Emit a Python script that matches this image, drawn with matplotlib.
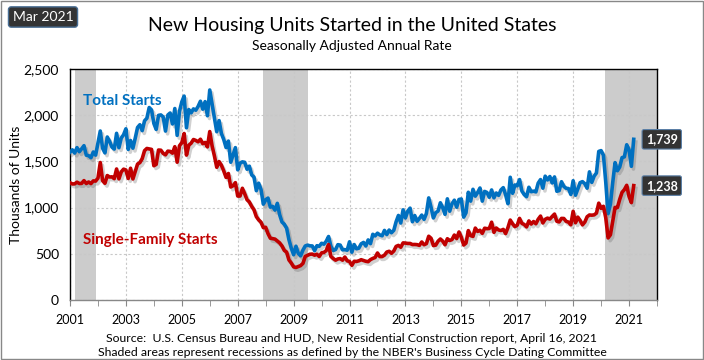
import numpy as np
import matplotlib.pyplot as plt
import matplotlib.patheffects as pe
from matplotlib.patches import FancyBboxPatch

plt.rcParams['font.family'] = ['Lato', 'DejaVu Sans']

# monthly SAAR, thousands of units, Jan 2001 .. Mar 2021
total = [
    1600, 1625, 1590, 1649, 1605, 1636, 1670, 1567, 1562, 1540, 1602, 1568,
    1698, 1829, 1642, 1592, 1764, 1717, 1655, 1633, 1804, 1648, 1753, 1788,
    1853, 1629, 1726, 1643, 1751, 1867, 1897, 1833, 1939, 1967, 2083, 2057,
    1911, 1846, 1998, 2003, 1981, 1828, 2002, 2024, 1905, 2072, 1782, 2042,
    2144, 2207, 1864, 2061, 2025, 2068, 2054, 2095, 2151, 2065, 2147, 1994,
    2273, 2119, 1969, 1821, 1942, 1802, 1737, 1650, 1720, 1491, 1570, 1649,
    1409, 1480, 1495, 1490, 1415, 1448, 1354, 1330, 1183, 1264, 1197, 1037,
    1084, 1103, 1005, 1013, 973, 1046, 923, 844, 820, 777, 652, 560,
    490, 582, 505, 478, 540, 585, 594, 586, 585, 534, 588, 581,
    614, 604, 636, 687, 583, 536, 546, 599, 594, 543, 545, 539,
    630, 517, 600, 554, 561, 608, 623, 585, 650, 610, 711, 694,
    723, 704, 695, 753, 708, 757, 728, 754, 847, 915, 833, 976,
    888, 962, 994, 847, 914, 852, 883, 919, 873, 936, 1105, 1003,
    888, 945, 962, 1052, 1000, 927, 1095, 961, 1042, 1080, 1004, 1088,
    1093, 897, 944, 1166, 1070, 1198, 1124, 1163, 1212, 1070, 1175, 1164,
    1112, 1191, 1106, 1158, 1132, 1191, 1216, 1140, 1042, 1328, 1155, 1245,
    1236, 1303, 1179, 1141, 1118, 1220, 1172, 1178, 1170, 1265, 1303, 1210,
    1340, 1299, 1336, 1267, 1332, 1177, 1184, 1280, 1229, 1209, 1206, 1142,
    1291, 1134, 1203, 1270, 1281, 1259, 1210, 1387, 1273, 1340, 1375, 1608,
    1617, 1567, 1276, 934, 1038, 1273, 1487, 1399, 1440, 1541, 1549, 1680,
    1625, 1447, 1739,
]
single = [
    1269, 1256, 1257, 1275, 1261, 1262, 1292, 1261, 1277, 1260, 1289, 1287,
    1319, 1488, 1291, 1263, 1347, 1331, 1333, 1313, 1418, 1311, 1386, 1416,
    1407, 1315, 1426, 1310, 1392, 1471, 1487, 1530, 1616, 1640, 1635, 1630,
    1453, 1468, 1623, 1621, 1587, 1571, 1611, 1608, 1589, 1659, 1491, 1669,
    1703, 1802, 1568, 1675, 1697, 1737, 1727, 1712, 1740, 1692, 1705, 1657,
    1823, 1668, 1559, 1436, 1498, 1458, 1397, 1327, 1369, 1223, 1237, 1270,
    1125, 1125, 1209, 1150, 1085, 1061, 1013, 976, 902, 867, 842, 783,
    787, 719, 669, 664, 659, 638, 618, 585, 537, 518, 433, 400,
    359, 352, 362, 372, 396, 471, 484, 495, 497, 485, 495, 471,
    510, 515, 534, 600, 471, 449, 431, 444, 448, 431, 465, 424,
    417, 375, 419, 417, 424, 436, 427, 419, 415, 437, 450, 460,
    509, 470, 470, 485, 519, 527, 506, 530, 580, 591, 571, 618,
    616, 612, 612, 600, 601, 599, 591, 628, 598, 610, 690, 668,
    589, 594, 636, 660, 637, 598, 663, 644, 654, 703, 665, 736,
    678, 595, 616, 751, 697, 688, 778, 742, 755, 721, 777, 772,
    774, 842, 732, 779, 758, 752, 764, 719, 783, 865, 824, 794,
    809, 883, 829, 817, 791, 856, 822, 849, 825, 874, 908, 834,
    873, 886, 876, 904, 930, 852, 845, 883, 882, 851, 843, 814,
    960, 836, 897, 860, 813, 843, 901, 920, 918, 921, 940, 1048,
    992, 1014, 891, 672, 706, 851, 1002, 1000, 1090, 1165, 1195, 1241,
    1121, 1054, 1238,
]
recessions = [(2001 + 2 / 12, 2001 + 11 / 12), (2007 + 11 / 12, 2009 + 6 / 12), (2020 + 1.5 / 12, 2022)]

x = 2001 + np.arange(len(total)) / 12

fig = plt.figure(figsize=(7.04, 3.6), dpi=100)
ax = fig.add_axes([70 / 704, 60 / 360, 587 / 704, 231 / 360])

for a, b in recessions:
    ax.axvspan(a, b, color='#cccccc', lw=0, zorder=0)

shadow = [pe.SimpleLineShadow(offset=(1.5, -2), shadow_color='#666666', alpha=0.3), pe.Normal()]
ax.plot(x, total, color='#0070C0', lw=2.6, path_effects=shadow, zorder=3)
ax.plot(x, single, color='#C00000', lw=2.6, path_effects=shadow, zorder=3)

ax.set_xlim(2001, 2022)
ax.set_ylim(0, 2500)
ax.set_yticks(np.arange(0, 2501, 500))
ax.set_yticklabels([f'{v:,}' for v in range(0, 2501, 500)], fontsize=10)
ax.set_xticks(np.arange(2001, 2023, 2))
ax.set_xticklabels([str(y) for y in range(2001, 2023, 2)], fontsize=9)
ax.set_xticks(np.arange(2002, 2023, 2), minor=True)
ax.tick_params(axis='y', length=0, pad=8)
ax.tick_params(axis='x', which='both', length=4, color='#888888', pad=6)
ax.grid(True, color='#c8c8c8', ls=(0, (2, 2)), lw=0.8, zorder=1)
ax.set_axisbelow(True)
for s in ax.spines.values():
    s.set_color('black')
    s.set_linewidth(1)
ax.spines['bottom'].set_color('#888888')

ax.set_ylabel('Thousands of Units', fontsize=10)
ax.yaxis.set_label_coords(-48 / 587, 0.5)

ax.text(2001.45, 2150, 'Total Starts', color='#0070C0', fontsize=11, fontweight='bold', va='center')
ax.text(2001.45, 650, 'Single-Family Starts', color='#C00000', fontsize=11, fontweight='bold', va='center')

for v in (total[-1], single[-1]):
    ax.text(2021.6, v, f'{v:,}', color='white', fontsize=9, fontweight='bold', va='center', ha='left',
            bbox=dict(boxstyle='round,pad=0.3,rounding_size=0.15', fc='#333333', ec='#5b7fa6', lw=0.8),
            zorder=5, clip_on=False)

fig.text(352 / 704, 1 - 25 / 360, 'New Housing Units Started in the United States', ha='center', va='center', fontsize=14)
fig.text(352 / 704, 1 - 46 / 360, 'Seasonally Adjusted Annual Rate', ha='center', va='center', fontsize=10)
fig.text(43 / 704, 1 - 17 / 360, 'Mar 2021', ha='center', va='center', color='white', fontsize=10,
         bbox=dict(boxstyle='round,pad=0.3,rounding_size=0.2', fc='#333333', ec='#4a6f95', lw=1))
fig.text(352 / 704, 1 - 338 / 360, 'Source:  U.S. Census Bureau and HUD, New Residential Construction report, April 16, 2021',
         ha='center', va='center', fontsize=8.8)
fig.text(352 / 704, 1 - 353 / 360, "Shaded areas represent recessions as defined by the NBER's Business Cycle Dating Committee",
         ha='center', va='center', fontsize=8.8)

fig.patches.append(FancyBboxPatch((0.001, 0.002), 0.997, 0.995, boxstyle='square,pad=0', transform=fig.transFigure,
                                  fill=False, ec='#888888', lw=1))

fig.savefig('out.png', dpi=100)
